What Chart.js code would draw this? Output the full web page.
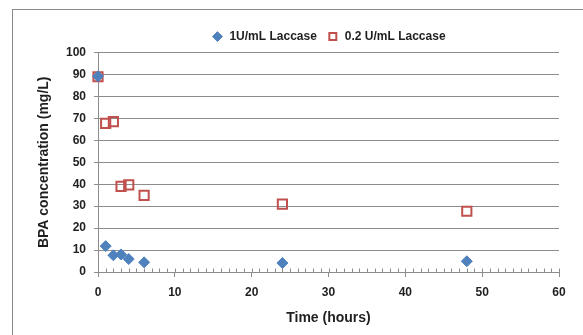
<!DOCTYPE html>
<html>
<head>
<meta charset="utf-8">
<script src="https://cdn.jsdelivr.net/npm/chart.js@4.4.1/dist/chart.umd.min.js"></script>
<style>
  html, body { margin: 0; padding: 0; background: #fff; }
  #wrap { width: 583px; height: 335px; }
</style>
</head>
<body>
<div id="wrap"><canvas id="bpaChart" width="583" height="335"></canvas></div>
<script>
"use strict";

// sampling times (hours) and BPA left in solution (mg/L)
const hours = [0, 1, 2, 3, 4, 6, 24, 48];
const laccaseHigh = [89.2, 11.8, 7.6, 8.0, 5.9, 4.4, 4.1, 4.9];
const laccaseLow = [89.0, 67.7, 68.5, 39.0, 39.7, 34.9, 30.9, 27.7];
const seriesNames = ["1U/mL Laccase", "0.2 U/mL Laccase"];
const xRange = [0, 60];
const yRange = [0, 100];
const tickStep = 10;

const textColor = "#1f1f1f";
const lineGray = "#8c8c8c";
const fontFamily = "'Liberation Sans', Arial, sans-serif";

function toPoints(values) {
  let points = [];
  for (let i in hours) {
    points.push({ x: hours[i], y: values[i] });
  }
  return points;
}

// grey outer frame like a spreadsheet chart object
const chartFrame = {
  id: "chartFrame",
  beforeDraw(chart) {
    const ctx = chart.ctx;
    ctx.save();
    ctx.strokeStyle = "#8a8a8a";
    ctx.lineWidth = 1;
    ctx.strokeRect(12.5, 9.5, 640, 400);
    ctx.restore();
  },
};

// small ticks at every hour, pointing up into the plot
const hourTicks = {
  id: "hourTicks",
  afterDatasetsDraw(chart) {
    const xScale = chart.scales.x;
    const ctx = chart.ctx;
    const base = Math.round(xScale.top) + 0.5;
    ctx.save();
    ctx.strokeStyle = lineGray;
    ctx.lineWidth = 1;
    ctx.beginPath();
    for (let v = xScale.min; v <= xScale.max; v++) {
      const px = Math.round(xScale.getPixelForValue(v)) + 0.5;
      ctx.moveTo(px, base - 4);
      ctx.lineTo(px, base);
    }
    ctx.stroke();
    ctx.restore();
  },
};

const ctx = document.getElementById("bpaChart").getContext("2d");

const bpaChart = new Chart(ctx, {
  type: "scatter",
  data: {
    datasets: [
      {
        label: seriesNames[0],
        data: toPoints(laccaseHigh),
        pointStyle: "rectRot",
        pointRadius: 5.5,
        backgroundColor: "#4f81bd",
        borderColor: "#4f81bd",
        borderWidth: 1,
        clip: false,
      },
      {
        label: seriesNames[1],
        data: toPoints(laccaseLow),
        pointStyle: "rect",
        pointRadius: 6.5,
        backgroundColor: "rgba(255,255,255,0)",
        borderColor: "#c0504d",
        borderWidth: 2,
        clip: false,
      },
    ],
  },
  options: {
    responsive: false,
    animation: false,
    devicePixelRatio: 1,
    layout: {
      padding: { left: 0, right: 24, top: 20.6, bottom: 0 },
    },
    plugins: {
      tooltip: { enabled: false },
      legend: {
        position: "top",
        fullSize: false,
        labels: {
          usePointStyle: true,
          boxHeight: 7,
          padding: 10,
          color: textColor,
          font: { family: fontFamily, size: 12, weight: "bold" },
        },
      },
    },
    scales: {
      x: {
        type: "linear",
        min: xRange[0],
        max: xRange[1],
        afterFit(scale) {
          scale.height = 63;
        },
        ticks: {
          stepSize: tickStep,
          padding: 8,
          color: textColor,
          font: { family: fontFamily, size: 12, weight: "bold" },
        },
        grid: {
          drawOnChartArea: false,
          drawTicks: true,
          tickLength: 5,
          color: lineGray,
        },
        border: { color: lineGray },
        title: {
          display: true,
          text: "Time (hours)",
          color: textColor,
          font: { family: fontFamily, size: 14, weight: "bold" },
          padding: { top: 0, bottom: 8.6 },
        },
      },
      y: {
        type: "linear",
        min: yRange[0],
        max: yRange[1],
        afterFit(scale) {
          scale.width = 98;
        },
        ticks: {
          stepSize: tickStep,
          padding: 8,
          color: textColor,
          font: { family: fontFamily, size: 12, weight: "bold" },
        },
        grid: {
          color: lineGray,
          tickLength: 4,
        },
        border: { color: lineGray },
        title: {
          display: true,
          text: "BPA concentration (mg/L)",
          color: textColor,
          font: { family: fontFamily, size: 14, weight: "bold" },
          padding: { top: 35.6, bottom: 0 },
        },
      },
    },
  },
  plugins: [chartFrame, hourTicks],
});
</script>
</body>
</html>
